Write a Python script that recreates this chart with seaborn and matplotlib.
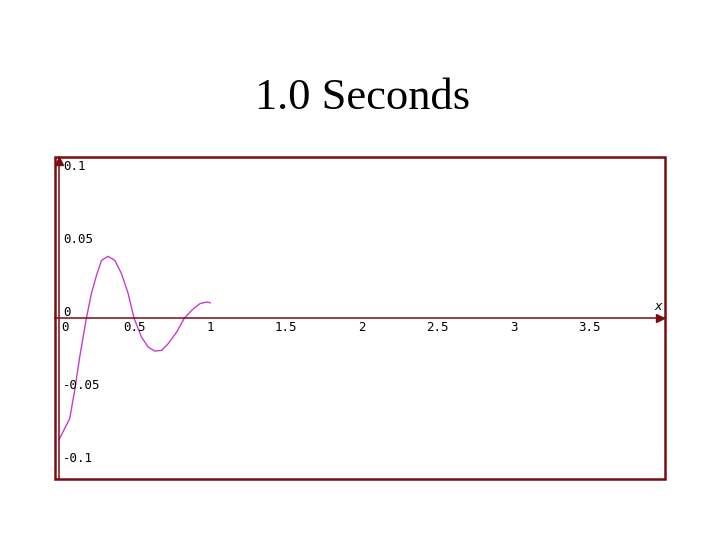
import numpy as np
import pandas as pd
import matplotlib
matplotlib.use("Agg")
import matplotlib.pyplot as plt
import matplotlib.transforms as mtransforms
from matplotlib.patches import Rectangle
import seaborn as sns

# curve
t = [0.0, 0.071, 0.104, 0.137, 0.181, 0.214, 0.248, 0.281, 0.324, 0.369,
     0.413, 0.457, 0.496, 0.545, 0.589, 0.633, 0.678, 0.721, 0.777, 0.827,
     0.876, 0.931, 0.976, 1.0]
y = [-0.0831, -0.0687, -0.0493, -0.0265, 0.0, 0.0169, 0.0295, 0.0397, 0.0425,
     0.0397, 0.0306, 0.0169, 0.0, -0.0128, -0.0197, -0.0224, -0.0219, -0.0173,
     -0.0094, 0.0, 0.0055, 0.0101, 0.0112, 0.0106]

xticks = [0.5, 1, 1.5, 2, 2.5, 3, 3.5]
xlabels = ["0.5", "1", "1.5", "2", "2.5", "3", "3.5"]
yticks = [0.1, 0.05, 0, -0.05, -0.1]
ylabels = ["0.1", "0.05", "0", "-0.05", "-0.1"]

title = "1.0 Seconds"

frame_col = "#7a0c12"
line_col = "#c63cd0"

sns.set_style("white")
df = pd.DataFrame({"t": t, "y": y})

fig = plt.figure(figsize=(7.2, 5.4), dpi=100)
ax = fig.add_axes([55 / 720, 1 - 479 / 540, 610 / 720, 322 / 540])
ax.set_xlim(-0.026, 4.0)
ax.set_ylim(-0.110, 0.1105)

sns.lineplot(data=df, x="t", y="y", ax=ax, color=line_col, linewidth=1.0,
             sort=False, estimator=None)
ax.set_xlabel("")
ax.set_ylabel("")

# axes through the origin
for s in ["top", "right"]:
    ax.spines[s].set_visible(False)
ax.spines["left"].set_position(("data", 0))
ax.spines["bottom"].set_position(("data", 0))
ax.spines["left"].set_color(frame_col)
ax.spines["bottom"].set_color(frame_col)
ax.spines["left"].set_linewidth(1.1)
ax.spines["bottom"].set_linewidth(1.1)

ax.set_xticks(xticks)
ax.set_yticks([v for v in yticks if v != 0])
ax.tick_params(axis="x", direction="in", length=3, width=0.8, color="black",
               labelbottom=False)
ax.tick_params(axis="y", direction="inout", length=4, width=0.8, color="black",
               labelleft=False)

# outer frame
ax.add_patch(Rectangle((0, 0), 1, 1, transform=ax.transAxes, fill=False,
                       edgecolor=frame_col, linewidth=1.8, clip_on=False, zorder=5))

# arrow heads
ax.plot([0], [0.988], marker="^", markersize=6, color=frame_col,
        transform=ax.get_xaxis_transform(), clip_on=False, zorder=6)
ax.plot([0.991], [0], marker=">", markersize=6, color=frame_col,
        transform=ax.get_yaxis_transform(), clip_on=False, zorder=6)

lab_font = dict(family="DejaVu Sans Mono", fontsize=9, color="black")

ylab_tr = mtransforms.offset_copy(ax.transData, fig=fig, x=4, y=6, units="dots")
for v, s in zip(yticks, ylabels):
    ax.text(0, v, s, transform=ylab_tr, ha="left", va="center", **lab_font)

xlab_tr = mtransforms.offset_copy(ax.transData, fig=fig, x=0, y=-9, units="dots")
for v, s in zip(xticks, xlabels):
    ax.text(v, 0, s, transform=xlab_tr, ha="center", va="center", **lab_font)
zero_tr = mtransforms.offset_copy(ax.transData, fig=fig, x=2, y=-9, units="dots")
ax.text(0, 0, "0", transform=zero_tr, ha="left", va="center", **lab_font)

xl_tr = mtransforms.offset_copy(ax.get_yaxis_transform(), fig=fig, x=0, y=12, units="dots")
ax.text(0.988, 0, "x", transform=xl_tr, ha="center", va="center",
        family="DejaVu Sans Mono", fontsize=9, style="italic", color="black")

fig.text(0.503, 1 - 109 / 540, title, ha="center", va="baseline",
         family="Liberation Serif", fontsize=32, color="black")

fig.savefig("out.png", dpi=100)
